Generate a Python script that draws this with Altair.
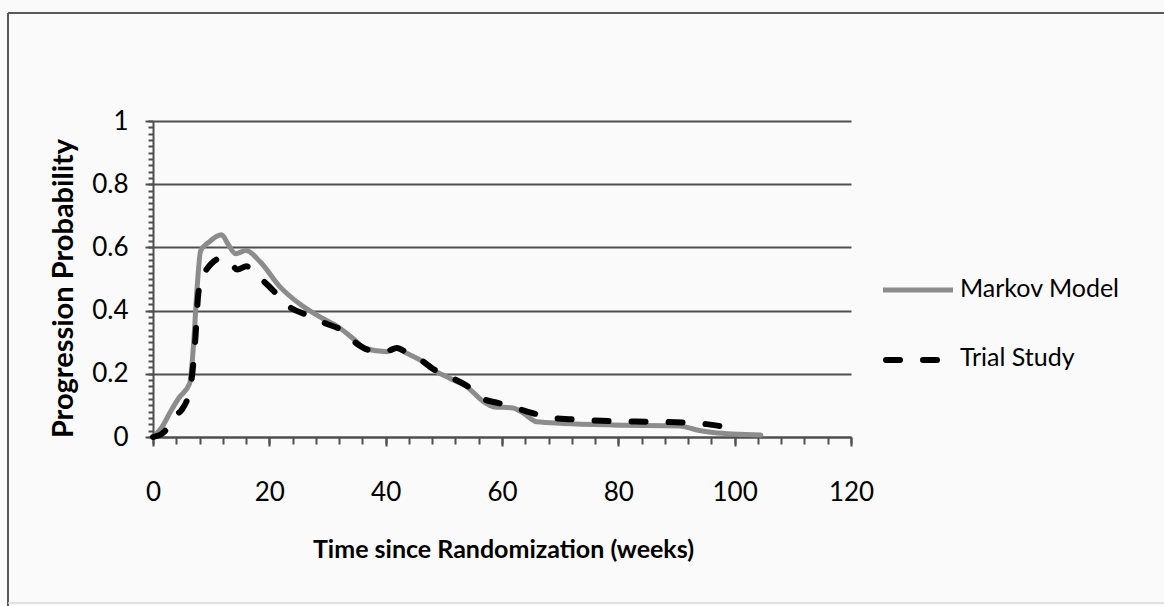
import altair as alt
import pandas as pd

# Series values read as (week, probability) pairs
markov_weeks = [0, 1.5, 3, 4.5, 6.3, 7.0, 7.5, 8.2, 9.5, 11.8, 12.9, 14.2, 16, 18.4,
                21.8, 25.3, 28.7, 32.1, 34.5, 36.5, 40.2, 41.9, 43.6, 45.9, 48.2, 51,
                53.9, 56.8, 58.5, 61.9, 63.7, 66, 70.5, 79, 90.6, 93.5, 96.3, 104.5]
markov_prob = [0, 0.03, 0.08, 0.125, 0.17, 0.3, 0.45, 0.59, 0.615, 0.64, 0.61, 0.58, 0.59, 0.555,
               0.476, 0.42, 0.38, 0.345, 0.31, 0.28, 0.27, 0.28, 0.265, 0.244, 0.212, 0.186,
               0.16, 0.112, 0.096, 0.092, 0.075, 0.048, 0.043, 0.038, 0.035, 0.022, 0.014, 0.006]

trial_weeks = [0, 1.5, 2.6, 4.0, 4.9, 6.4, 7.2, 7.8, 8.5, 9.2, 11.8, 13, 14.5, 16.1, 17.8,
               20.6, 23, 26.4, 29.6, 32.7, 35, 37.3, 40.2, 41.9, 43.6, 45.9, 48.2, 51,
               53.9, 56.8, 58.8, 61, 63.5, 65.4, 68, 72, 78.9, 85.7, 92.6, 95.5, 99.2, 101.2]
trial_prob = [0, 0.01, 0.03, 0.07, 0.085, 0.155, 0.29, 0.455, 0.51, 0.53, 0.566, 0.56, 0.53, 0.54, 0.513,
              0.465, 0.418, 0.386, 0.36, 0.335, 0.296, 0.275, 0.272, 0.282, 0.268, 0.246, 0.215, 0.19,
              0.163, 0.12, 0.11, 0.1, 0.085, 0.075, 0.062, 0.056, 0.05, 0.048, 0.045, 0.04, 0.031, 0.03]

series_names = ["Markov Model", "Trial Study"]

x_major = [0, 20, 40, 60, 80, 100, 120]
x_minor = list(range(0, 121, 4))
y_major = [0, 0.2, 0.4, 0.6, 0.8, 1]
y_minor = [round(i * 0.02, 2) for i in range(51)]

FONT = "Lato"
GRID = "#4f4f4f"
MARKOV_COLOR = "#8c8c8c"
TRIAL_DASH = [14, 23]

markov = pd.DataFrame({"week": markov_weeks, "prob": markov_prob})
trial = pd.DataFrame({"week": trial_weeks, "prob": trial_prob})

x_scale = alt.Scale(domain=[0, 120], nice=False, zero=False)
y_scale = alt.Scale(domain=[0, 1], nice=False)

markov_line = alt.Chart(markov).mark_line(
    color=MARKOV_COLOR, strokeWidth=5, interpolate="monotone", strokeCap="round", strokeJoin="round"
).encode(
    x=alt.X("week:Q", scale=x_scale, axis=alt.Axis(
        values=x_major, orient="bottom", title="Time since Randomization (weeks)",
        tickSize=9, tickWidth=2, tickColor=GRID, domainColor=GRID, domainWidth=2,
        labelFont=FONT, labelFontSize=26, labelColor="black", labelBaseline="alphabetic",
        labelPadding=54, labelFlush=False,
        titleFont=FONT, titleFontSize=25, titleFontWeight="bold", titleColor="black",
        titleX=350, titleY=120, titleBaseline="alphabetic", grid=False)),
    y=alt.Y("prob:Q", scale=y_scale, axis=alt.Axis(
        values=y_major, orient="left", title="Progression Probability", format="~g",
        tickSize=8, tickWidth=2, tickColor=GRID, domainColor=GRID, domainWidth=2,
        grid=True, gridColor=GRID, gridWidth=2, gridOpacity=1,
        labelFont=FONT, labelFontSize=26, labelColor="black", labelPadding=17,
        labelBaseline="middle", labelFlush=False,
        titleFont=FONT, titleFontSize=29, titleFontWeight="bold", titleColor="black",
        titleAngle=-90, titleX=-81, titleY=167, titleBaseline="alphabetic", titleAlign="center")),
)

trial_line = alt.Chart(trial).mark_line(
    color="black", strokeWidth=6, strokeDash=TRIAL_DASH, interpolate="monotone",
    strokeCap="round", strokeJoin="round"
).encode(
    x=alt.X("week:Q", scale=x_scale, axis=alt.Axis(
        values=x_minor, orient="bottom", title=None, labels=False, domain=False,
        tickSize=7, tickWidth=2, tickColor=GRID, grid=False)),
    y=alt.Y("prob:Q", scale=y_scale, axis=alt.Axis(
        values=y_minor, orient="left", title=None, labels=False, domain=False,
        tickSize=5, tickWidth=2, tickColor=GRID, grid=False)),
)

# Page frame around the figure
frame_top = alt.Chart().mark_rule(color="#5a5a5a", strokeWidth=2).encode(
    x=alt.value(-145), x2=alt.value(1011), y=alt.value(-108))
frame_left = alt.Chart().mark_rule(color="#5a5a5a", strokeWidth=2).encode(
    x=alt.value(-145), y=alt.value(-108), y2=alt.value(485))
frame_bottom = alt.Chart().mark_rule(color="#d8d8d8", strokeWidth=1.5).encode(
    x=alt.value(-145), x2=alt.value(1011), y=alt.value(482))

# Legend entries
leg_markov = alt.Chart().mark_rule(color=MARKOV_COLOR, strokeWidth=5).encode(
    x=alt.value(730), x2=alt.value(800), y=alt.value(169))
leg_trial = alt.Chart().mark_rule(color="black", strokeWidth=6, strokeDash=TRIAL_DASH,
                                  strokeCap="round").encode(
    x=alt.value(733), x2=alt.value(790), y=alt.value(239))
leg_text1 = alt.Chart().mark_text(align="left", baseline="middle", font=FONT, fontSize=25,
                                  color="black", text=series_names[0]).encode(
    x=alt.value(807), y=alt.value(168))
leg_text2 = alt.Chart().mark_text(align="left", baseline="middle", font=FONT, fontSize=25,
                                  color="black", text=series_names[1]).encode(
    x=alt.value(807), y=alt.value(237))

chart = alt.layer(
    markov_line, trial_line,
    frame_top, frame_left, frame_bottom,
    leg_markov, leg_trial, leg_text1, leg_text2,
).resolve_axis(x="independent", y="independent").properties(
    width=698, height=316,
    autosize=alt.AutoSizeParams(type="none"),
    padding={"left": 153, "top": 121, "right": 313, "bottom": 169},
    background="#fafafa",
).configure_view(stroke=None)

chart.save("out.html", embed_options={"renderer": "svg", "actions": False})
